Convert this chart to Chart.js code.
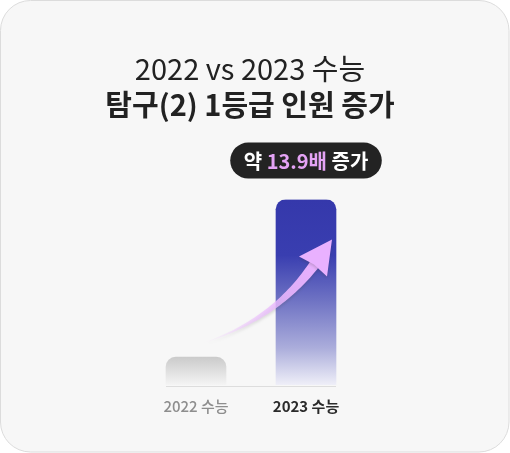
<!DOCTYPE html>
<html><head><meta charset="utf-8">
<script src="https://cdn.jsdelivr.net/npm/chart.js@4.4.1/dist/chart.umd.min.js"></script>
<style>
html,body{margin:0;padding:0;background:#ffffff;}
#wrap{width:510px;height:453px;position:relative;}
</style></head>
<body><div id="wrap"><canvas id="c" width="510" height="453"></canvas></div>
<script>
const categories = ['2022 수능', '2023 수능'];
const values = [15, 100];
const titleLine1 = '2022 vs 2023 수능';
const titleLine2 = '탐구(2) 1등급 인원 증가';
const badgeParts = ['약 ', '13.9배', ' 증가'];
const labelColors = ['#8e8e8e', '#2b2b2b'];
const labelWeights = ['500', '700'];

const FONT = "'Noto Sans CJK KR', 'Noto Sans', sans-serif";

const cardPlugin = {
  id: 'card',
  beforeDraw(chart) {
    const ctx = chart.ctx;
    ctx.save();
    ctx.beginPath();
    ctx.roundRect(0.5, 0.5, chart.width - 1.5, chart.height - 1.5, 30);
    ctx.fillStyle = '#f7f7f7';
    ctx.fill();
    ctx.strokeStyle = '#dcdcdc';
    ctx.lineWidth = 1;
    ctx.stroke();
    ctx.restore();
  }
};

function barGradient(context) {
  const chart = context.chart;
  const area = chart.chartArea;
  if (!area) return '#ccc';
  const ys = chart.scales.y;
  const top = ys.getPixelForValue(values[context.dataIndex]);
  const bottom = ys.getPixelForValue(0);
  const g = chart.ctx.createLinearGradient(0, top, 0, bottom);
  if (context.dataIndex === 0) {
    g.addColorStop(0, '#cbcbcb');
    g.addColorStop(1, '#f4f4f4');
  } else {
    g.addColorStop(0, '#3538ab');
    g.addColorStop(0.3, '#393eb0');
    g.addColorStop(0.55, '#7074c4');
    g.addColorStop(0.8, '#abaddb');
    g.addColorStop(1, '#efeff8');
  }
  return g;
}

const decorPlugin = {
  id: 'decor',
  afterDatasetsDraw(chart) {
    const ctx = chart.ctx;
    const meta = chart.getDatasetMeta(0);
    const b0 = meta.data[0], b1 = meta.data[1];
    const w0 = b0.width, w1 = b1.width;
    // axis baseline
    ctx.save();
    ctx.strokeStyle = '#dddddd';
    ctx.lineWidth = 1;
    ctx.beginPath();
    ctx.moveTo(b0.x - w0 / 2, Math.round(b0.base) + 1.5);
    ctx.lineTo(b1.x + w1 / 2, Math.round(b0.base) + 1.5);
    ctx.stroke();
    ctx.restore();

    // arrow
    const T = {x: b0.x + 7, y: b0.base - 42};
    const tip = {x: b1.x + 26, y: b1.y + 40};
    const L = {x: b1.x - 7, y: b1.y + 57};
    const R = {x: b1.x + 21, y: b1.y + 77};
    const M = {x: (L.x + R.x) / 2 + 2, y: (L.y + R.y) / 2 - 3};
    const C = {x: M.x - 40, y: M.y + 56};
    const N = 40;
    const left = [], right = [];
    for (let i = 0; i <= N; i++) {
      const s = i / N;
      const px = (1 - s) * (1 - s) * T.x + 2 * (1 - s) * s * C.x + s * s * M.x;
      const py = (1 - s) * (1 - s) * T.y + 2 * (1 - s) * s * C.y + s * s * M.y;
      const dx = 2 * (1 - s) * (C.x - T.x) + 2 * s * (M.x - C.x);
      const dy = 2 * (1 - s) * (C.y - T.y) + 2 * s * (M.y - C.y);
      const len = Math.hypot(dx, dy);
      const nx = -dy / len, ny = dx / len;
      const hw = (0.4 + 10 * Math.pow(s, 1.2)) / 2;
      left.push([px + nx * hw, py + ny * hw]);
      right.push([px - nx * hw, py - ny * hw]);
    }
    ctx.save();
    ctx.shadowColor = 'rgba(60,60,60,0.22)';
    ctx.shadowBlur = 3;
    ctx.shadowOffsetY = 2;
    const g = ctx.createLinearGradient(T.x, T.y, M.x, M.y);
    g.addColorStop(0, 'rgba(240,205,255,0)');
    g.addColorStop(0.3, 'rgba(238,196,255,0.55)');
    g.addColorStop(0.7, 'rgba(234,182,255,0.9)');
    g.addColorStop(1, 'rgba(233,176,255,1)');
    ctx.fillStyle = g;
    ctx.beginPath();
    ctx.moveTo(left[0][0], left[0][1]);
    for (const p of left) ctx.lineTo(p[0], p[1]);
    for (let i = right.length - 1; i >= 0; i--) ctx.lineTo(right[i][0], right[i][1]);
    ctx.closePath();
    ctx.fill();
    // head
    ctx.fillStyle = '#e9b1ff';
    ctx.beginPath();
    ctx.moveTo(tip.x, tip.y);
    ctx.lineTo(R.x, R.y);
    ctx.lineTo(M.x - 1, M.y + 1);
    ctx.lineTo(L.x, L.y);
    ctx.closePath();
    ctx.fill();
    ctx.restore();

    // badge
    ctx.save();
    ctx.font = "700 20px " + FONT;
    const widths = badgeParts.map(t => ctx.measureText(t).width);
    const tw = widths.reduce((a, b) => a + b, 0);
    const bw = tw + 27, bh = 36;
    const cx = b1.x, cy = b1.y - 39;
    ctx.beginPath();
    ctx.roundRect(cx - bw / 2, cy - bh / 2, bw, bh, bh / 2);
    ctx.fillStyle = '#232323';
    ctx.fill();
    ctx.textBaseline = 'middle';
    ctx.textAlign = 'left';
    let x = cx - tw / 2;
    badgeParts.forEach((t, i) => {
      ctx.fillStyle = i === 1 ? '#e4a3f5' : '#ffffff';
      ctx.fillText(t, x, cy + 1);
      x += widths[i];
    });
    ctx.restore();
  }
};

new Chart(document.getElementById('c'), {
  type: 'bar',
  data: {
    labels: categories,
    datasets: [{
      data: values,
      backgroundColor: barGradient,
      borderRadius: 10,
      borderSkipped: 'start',
      barThickness: 60
    }]
  },
  options: {
    responsive: false,
    animation: false,
    devicePixelRatio: 1,
    layout: {padding: {top: 52, bottom: 26, left: 0, right: 10}},
    plugins: {
      legend: {display: false},
      tooltip: {enabled: false},
      title: {
        display: true,
        text: titleLine1,
        color: '#222222',
        font: {family: FONT, size: 29, weight: '400'},
        padding: {top: 0, bottom: 0}
      },
      subtitle: {
        display: true,
        text: titleLine2,
        color: '#222222',
        font: {family: FONT, size: 29, weight: '700'},
        padding: {top: 1, bottom: 77}
      }
    },
    scales: {
      x: {
        grid: {display: false, drawTicks: false},
        border: {display: false},
        ticks: {
          padding: 12,
          color: (c) => labelColors[c.index],
          font: (c) => ({family: FONT, size: 15, weight: labelWeights[c.index]})
        }
      },
      y: {
        min: 0, max: 100,
        display: true,
        grid: {display: false},
        border: {display: false},
        ticks: {display: false},
        afterFit: (s) => { s.width = 141; }
      },
      yR: {
        position: 'right',
        min: 0, max: 100,
        display: true,
        grid: {display: false},
        border: {display: false},
        ticks: {display: false},
        afterFit: (s) => { s.width = 139; }
      }
    }
  },
  plugins: [cardPlugin, decorPlugin]
});
</script>
</body></html>
